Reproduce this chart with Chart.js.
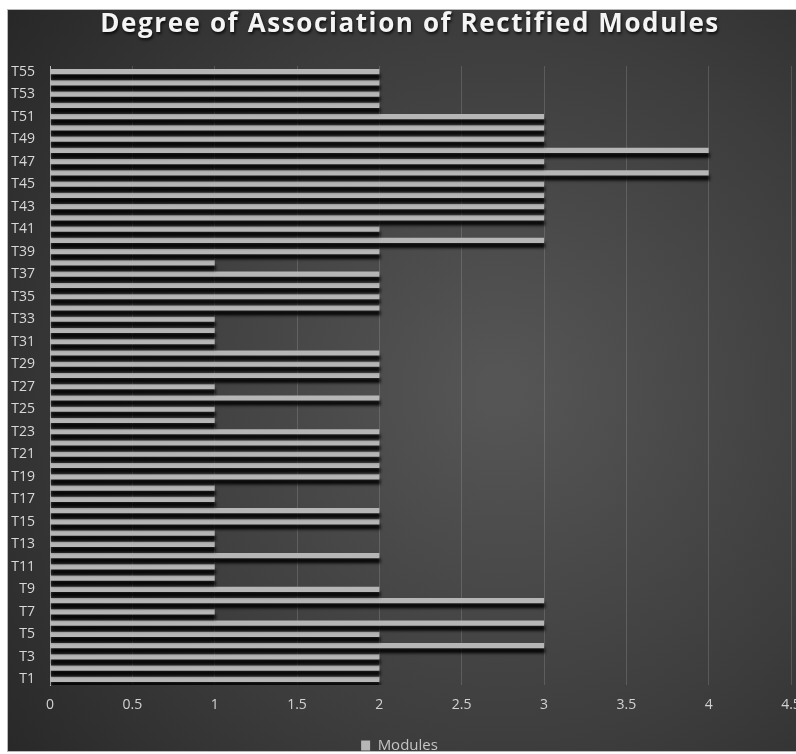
<!DOCTYPE html>
<html>
<head>
<meta charset="utf-8">
<script src="https://cdn.jsdelivr.net/npm/chart.js@4/dist/chart.umd.min.js"></script>
<style>
  html, body { margin: 0; padding: 0; background: #ffffff; }
  #wrap { width: 796px; height: 754px; position: relative; }
</style>
</head>
<body>
<div id="wrap"><canvas id="c" width="796" height="754"></canvas></div>
<script>
// Modules T1..T55 and their degree of association
const categories = [
  'T1','T2','T3','T4','T5','T6','T7','T8','T9','T10',
  'T11','T12','T13','T14','T15','T16','T17','T18','T19','T20',
  'T21','T22','T23','T24','T25','T26','T27','T28','T29','T30',
  'T31','T32','T33','T34','T35','T36','T37','T38','T39','T40',
  'T41','T42','T43','T44','T45','T46','T47','T48','T49','T50',
  'T51','T52','T53','T54','T55'
];
const moduleValues = [
  2, 2, 2, 3, 2, 3, 1, 3, 2, 1,
  1, 2, 1, 1, 2, 2, 1, 1, 2, 2,
  2, 2, 2, 1, 1, 2, 1, 2, 2, 2,
  1, 1, 1, 2, 2, 2, 2, 1, 2, 3,
  2, 3, 3, 3, 3, 4, 3, 4, 3, 3,
  3, 2, 2, 2, 2
];
// Category labels printed along the vertical axis
const yTickLabels = [
  'T1','T3','T5','T7','T9','T11','T13','T15','T17','T19','T21','T23','T25','T27',
  'T29','T31','T33','T35','T37','T39','T41','T43','T45','T47','T49','T51','T53','T55'
];
const seriesName = 'Modules';
const chartTitle = 'Degree of Association of Rectified Modules';

// Dark panel behind the whole chart
const panelBackground = {
  id: 'panelBackground',
  beforeDraw(chart) {
    const ctx = chart.ctx;
    const W = chart.width, H = chart.height;
    ctx.save();
    ctx.fillStyle = '#ffffff';
    ctx.fillRect(0, 0, W, H);
    const x0 = 8, y0 = 10, x1 = W, y1 = 751;
    const g = ctx.createRadialGradient(500, 390, 20, 500, 390, 640);
    g.addColorStop(0, '#555555');
    g.addColorStop(0.55, '#3d3d3d');
    g.addColorStop(1, '#262626');
    ctx.fillStyle = g;
    ctx.fillRect(x0, y0, x1 - x0, y1 - y0);
    ctx.strokeStyle = '#b8b8b8';
    ctx.lineWidth = 1;
    ctx.strokeRect(x0 - 0.5, y0 - 0.5, x1 - x0 + 1, y1 - y0 + 1);
    ctx.restore();
  }
};

// Heading across the top, spaced out with a soft shadow
const headingText = {
  id: 'headingText',
  afterDraw(chart) {
    const ctx = chart.ctx;
    ctx.save();
    ctx.font = 'bold 26px "Open Sans"';
    if ('letterSpacing' in ctx) ctx.letterSpacing = '1.6px';
    ctx.textAlign = 'center';
    ctx.textBaseline = 'alphabetic';
    ctx.shadowColor = 'rgba(0,0,0,0.8)';
    ctx.shadowBlur = 3;
    ctx.shadowOffsetX = 1;
    ctx.shadowOffsetY = 2;
    ctx.fillStyle = '#f4f4f4';
    ctx.fillText(chartTitle, 410, 32);
    ctx.restore();
  }
};

// Drop shadow under the bars
const barShadow = {
  id: 'barShadow',
  beforeDatasetsDraw(chart) {
    const ctx = chart.ctx;
    ctx.save();
    ctx.shadowColor = 'rgba(0,0,0,0.9)';
    ctx.shadowBlur = 3;
    ctx.shadowOffsetX = 1;
    ctx.shadowOffsetY = 5;
  },
  afterDatasetsDraw(chart) {
    chart.ctx.restore();
  }
};

new Chart(document.getElementById('c'), {
  type: 'bar',
  data: {
    labels: categories,
    datasets: [{
      label: seriesName,
      data: moduleValues,
      backgroundColor: '#b6b6b6',
      borderWidth: 0,
      barPercentage: 0.46,
      categoryPercentage: 1.0
    }]
  },
  options: {
    indexAxis: 'y',
    responsive: false,
    animation: false,
    devicePixelRatio: 1,
    layout: { padding: { left: 8, right: 5, top: 66, bottom: -9 } },
    plugins: {
      title: { display: false },
      legend: {
        display: true,
        position: 'bottom',
        labels: {
          color: '#c4c4c4',
          font: { family: 'Open Sans', size: 15 },
          boxWidth: 9,
          boxHeight: 10,
          padding: 2
        }
      },
      tooltip: { enabled: false }
    },
    scales: {
      x: {
        min: 0,
        max: 4.5,
        ticks: {
          stepSize: 0.5,
          color: '#d2d2d2',
          font: { family: 'Open Sans', size: 14 },
          padding: 12,
          callback(value) { return String(value); }
        },
        grid: {
          color: 'rgba(190,190,190,0.22)',
          lineWidth: 1,
          drawTicks: false
        },
        border: { display: false },
        afterFit(scale) {
          scale.height = 51;
          scale.paddingRight = 0;
          scale.paddingLeft = 0;
        }
      },
      y: {
        reverse: true,
        ticks: {
          autoSkip: false,
          color: '#d8d8d8',
          font: { family: 'Open Sans', size: 14 },
          padding: 15,
          callback(value, index) {
            const name = categories[index];
            return yTickLabels.includes(name) ? name : '';
          }
        },
        grid: { display: false, drawTicks: false },
        border: { display: true, color: '#bdbdbd', width: 1 },
        afterFit(scale) {
          scale.width = 42;
          scale.paddingTop = 0;
        }
      }
    }
  },
  plugins: [panelBackground, barShadow, headingText]
});
</script>
</body>
</html>
